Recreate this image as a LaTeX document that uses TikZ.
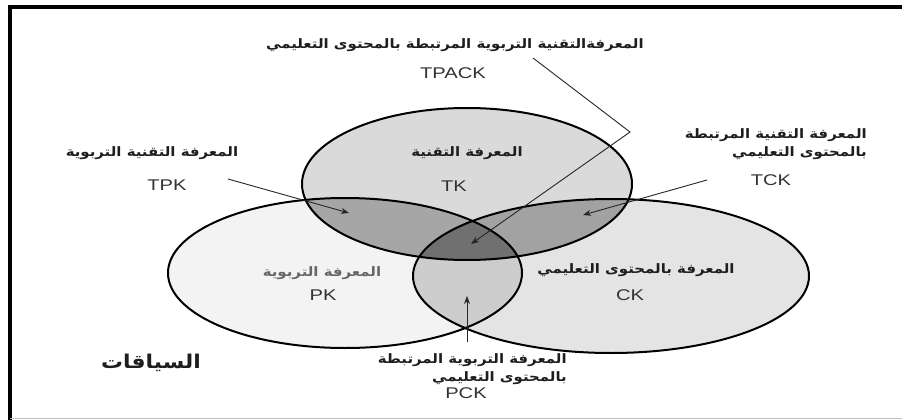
\documentclass[tikz,border=0pt]{standalone}
\usepackage{fontspec}
\setmainfont{Liberation Sans}
\newfontfamily\arabicfont[Script=Arabic,FakeStretch=1.15]{DejaVu Sans}
\newfontfamily\latinfont[FakeStretch=1.3]{Liberation Sans}
\TeXXeTstate=1
\usetikzlibrary{arrows.meta}
\definecolor{pkfill}{HTML}{F3F3F3}
\definecolor{ckfill}{HTML}{E4E4E4}
\definecolor{tkfill}{HTML}{DADADA}
\definecolor{pckfill}{HTML}{CDCDCD}
\definecolor{tpkfill}{HTML}{A6A6A6}
\definecolor{tckfill}{HTML}{A2A2A2}
\definecolor{tpackfill}{HTML}{707070}
\definecolor{txt}{HTML}{1E1E1E}
\definecolor{lat}{HTML}{333333}
\definecolor{pkt}{HTML}{666666}
\tikzset{
  outline/.style={draw=black,line width=2pt},
  pointer/.style={draw=black!85,line width=0.9pt,-{Stealth[length=8pt,width=6pt]}},
  artext/.style={text=txt,font=\arabicfont\bfseries\fontsize{13}{18}\selectfont,inner sep=0pt},
  lattext/.style={text=lat,font=\latinfont\fontsize{15.5}{18}\selectfont,inner sep=0pt},
}
\def\TKpath{(467,184) ellipse [x radius=165pt, y radius=76pt]}
\def\PKpath{(345,273) ellipse [x radius=177pt, y radius=75pt]}
\def\CKpath{(611,276) ellipse [x radius=198pt, y radius=77pt]}
\begin{document}
\begin{tikzpicture}[x=1pt,y=-1pt]
\useasboundingbox (0,0) rectangle (902,420);
\fill[white] (0,0) rectangle (902,420);
% frame
\draw[line width=3.5pt,black] (8,7) -- (902,7);
\draw[line width=3.5pt,black] (10,7) -- (10,420);
\draw[line width=1pt,black!25] (10,418.5) -- (902,418.5);
% base fills
\fill[pkfill] \PKpath;
\fill[ckfill] \CKpath;
\fill[tkfill] \TKpath;
\begin{scope}
  \clip \PKpath; \fill[pckfill] \CKpath;
\end{scope}
\begin{scope}
  \clip \TKpath; \fill[tpkfill] \PKpath;
\end{scope}
\begin{scope}
  \clip \TKpath; \fill[tckfill] \CKpath;
\end{scope}
\begin{scope}
  \clip \TKpath; \clip \PKpath; \fill[tpackfill] \CKpath;
\end{scope}
% outlines
\draw[outline] \PKpath;
\draw[outline] \CKpath;
\draw[outline] \TKpath;
% texts
\node[artext] (title) at (455,45) {\beginR المعرفةالتقنية التربوية المرتبطة بالمحتوى التعليمي\endR};
\node[lattext] (tpack) at (453,73) {TPACK};
\node[artext] (tpkar) at (152,153) {\beginR المعرفة التقنية التربوية\endR};
\node[lattext] (tpk) at (167,185) {TPK};
\node[artext] (tkar) at (467,153) {\beginR المعرفة التقنية\endR};
\node[lattext] (tk) at (454,186) {TK};
\node[artext,align=right,anchor=east] (tckar) at (867,144) {\beginR المعرفة التقنية المرتبطة\endR\\\beginR بالمحتوى التعليمي\endR};
\node[lattext] (tck) at (771,180) {TCK};
\node[artext,text=pkt] (pkar) at (322,273) {\beginR المعرفة التربوية\endR};
\node[lattext] (pk) at (323,295) {PK};
\node[artext] (ckar) at (636,270) {\beginR المعرفة بالمحتوى التعليمي\endR};
\node[lattext] (ck) at (630,295) {CK};
\node[artext,align=right,anchor=east] (pckar) at (567,369) {\beginR المعرفة التربوية المرتبطة\endR\\\beginR بالمحتوى التعليمي\endR};
\node[lattext] (pck) at (466,393) {PCK};
\node[artext,font=\arabicfont\bfseries\fontsize{19}{22}\selectfont] (ctx) at (151,363) {\beginR السياقات\endR};
% connectors
\coordinate (tpackS) at (533,58);
\coordinate (tpackB) at (630,132);
\coordinate (tpackE) at (471,244);
\coordinate (tpkS) at (228,179);
\coordinate (tpkE) at (349,213);
\coordinate (tckS) at (707,180);
\coordinate (tckE) at (583,215);
\coordinate (pckS) at (467,342);
\coordinate (pckE) at (467,296);
\draw[pointer] (tpackS) -- (tpackB) -- (tpackE);
\draw[pointer] (tpkS) -- (tpkE);
\draw[pointer] (tckS) -- (tckE);
\draw[pointer] (pckS) -- (pckE);
\end{tikzpicture}
\end{document}
